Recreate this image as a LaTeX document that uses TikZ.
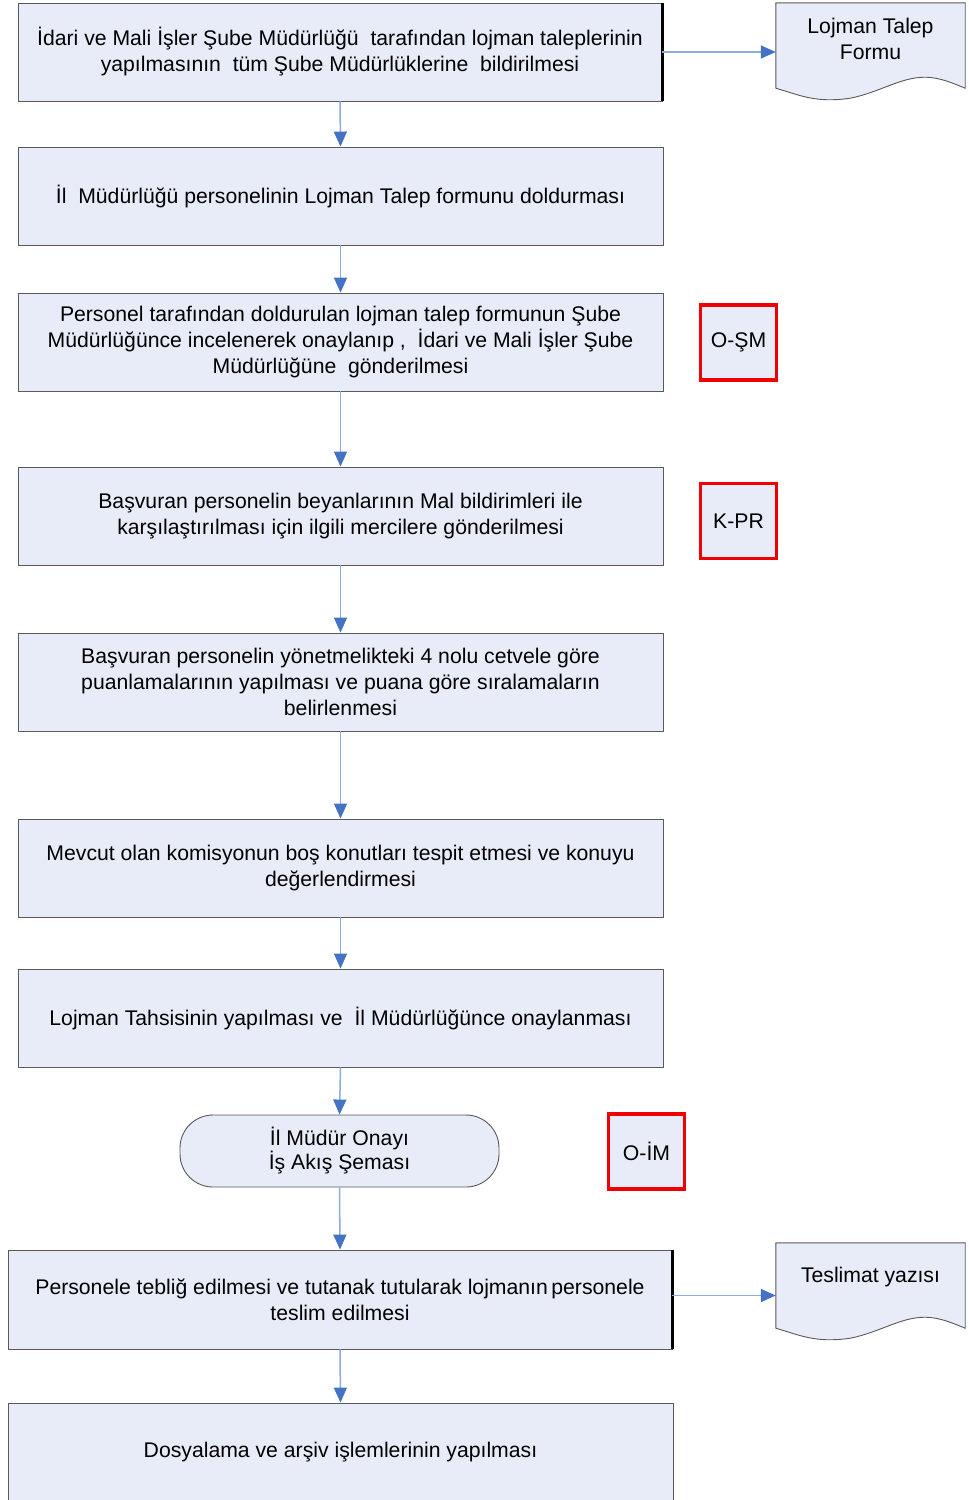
\documentclass[tikz,border=0pt]{standalone}
\usepackage{fontspec}
\setmainfont{Liberation Sans}
\usetikzlibrary{arrows.meta,calc}
\definecolor{boxfill}{RGB}{232,236,248}
\definecolor{boxline}{RGB}{90,90,90}
\definecolor{arrline}{RGB}{143,170,220}
\definecolor{arrhead}{RGB}{68,114,196}
\definecolor{redline}{RGB}{240,0,0}
\tikzset{
  stepbox/.style={draw=boxline, line width=0.9pt, fill=boxfill, rectangle, inner sep=0pt,
    minimum width=645pt, minimum height=98pt, align=center,
    font=\fontsize{21.2}{26}\selectfont},
  codebox/.style={draw=redline, line width=3.2pt, fill=boxfill, rectangle, inner sep=0pt,
    minimum width=76pt, minimum height=75pt, align=center,
    font=\fontsize{21.2}{26}\selectfont},
  termbox/.style={draw=boxline, line width=0.9pt, fill=boxfill, rectangle, rounded corners=33pt,
    inner sep=0pt, minimum width=319pt, minimum height=72pt, align=center,
    font=\fontsize{21.2}{24}\selectfont},
  docframe/.style={draw=none, rectangle, inner sep=0pt, minimum width=189pt, minimum height=98pt},
  doctext/.style={inner sep=0pt, align=center, font=\fontsize{21.2}{26}\selectfont},
  docline/.style={draw=boxline, line width=0.9pt, fill=boxfill},
  flow/.style={draw=arrline, line width=1.5pt, -{Triangle[length=15pt,width=13pt,color=arrhead]}},
  darkedge/.style={draw=black, line width=2.2pt}
}
\begin{document}
\begin{tikzpicture}[x=1pt,y=-1pt]
\useasboundingbox (0,0) rectangle (969,1500);
\fill[white] (0,0) rectangle (969,1500);

% main boxes
\node[stepbox, minimum width=644pt] (b1) at (340,52) {İdari ve Mali İşler Şube Müdürlüğü\ \ tarafından lojman taleplerinin\\ yapılmasının\ \ tüm Şube Müdürlüklerine\ \ bildirilmesi};
\node[stepbox] (b2) at (340.5,196) {İl\ \ Müdürlüğü personelinin Lojman Talep formunu doldurması};
\node[stepbox] (b3) at (340.5,342) {Personel tarafından doldurulan lojman talep formunun Şube\\ Müdürlüğünce incelenerek onaylanıp ,\ \ İdari ve Mali İşler Şube\\ Müdürlüğüne\ \ gönderilmesi};
\node[stepbox] (b4) at (340.5,516) {Başvuran personelin beyanlarının Mal bildirimleri ile\\ karşılaştırılması için ilgili mercilere gönderilmesi};
\node[stepbox] (b5) at (340.5,682) {Başvuran personelin yönetmelikteki 4 nolu cetvele göre\\ puanlamalarının yapılması ve puana göre sıralamaların\\ belirlenmesi};
\node[stepbox] (b6) at (340.5,868) {Mevcut olan komisyonun boş konutları tespit etmesi ve konuyu\\ değerlendirmesi};
\node[stepbox] (b7) at (340.5,1018) {Lojman Tahsisinin yapılması ve\ \ İl Müdürlüğünce onaylanması};
\node[termbox] (t8) at (339.5,1151) {İl Müdür Onayı\\ İş Akış Şeması};
\node[stepbox, minimum width=664pt, minimum height=99pt] (b9) at (340,1299.5) {Personele tebliğ edilmesi ve tutanak tutularak lojmanın\,personele\\ teslim edilmesi};
\node[stepbox, minimum width=665pt] (b10) at (340.5,1452) {Dosyalama ve arşiv işlemlerinin yapılması};

% dark right edges
\draw[darkedge] (b1.north east) -- (b1.south east);
\draw[darkedge] (b9.north east) -- (b9.south east);

% code boxes
\node[codebox] (c1) at (738.5,342.5) {O-ŞM};
\node[codebox] (c2) at (738.5,521) {K-PR};
\node[codebox] (c3) at (646.5,1151.5) {O-İM};

% documents
\node[docframe] (d1) at (870.5,52) {};
\draw[docline] (d1.north west) -- (d1.north east) -- ([yshift=13pt]d1.south east)
  .. controls ([xshift=-10pt,yshift=17pt]d1.south east) and ([xshift=-25pt,yshift=24pt]d1.south east) .. ([xshift=-40pt,yshift=24pt]d1.south east)
  .. controls ([xshift=-65pt,yshift=24pt]d1.south east) and ([xshift=-85pt,yshift=9pt]d1.south east) .. ([xshift=-115pt,yshift=3pt]d1.south east)
  .. controls ([xshift=-150pt,yshift=-2pt]d1.south east) and ([xshift=-165pt,yshift=6pt]d1.south east) .. ([yshift=13pt]d1.south west) -- cycle;
\node[doctext] (d1t) at ([yshift=13pt]d1.center) {Lojman Talep\\ Formu};

\node[docframe] (d2) at (870.5,1292) {};
\draw[docline] (d2.north west) -- (d2.north east) -- ([yshift=13pt]d2.south east)
  .. controls ([xshift=-10pt,yshift=17pt]d2.south east) and ([xshift=-25pt,yshift=24pt]d2.south east) .. ([xshift=-40pt,yshift=24pt]d2.south east)
  .. controls ([xshift=-65pt,yshift=24pt]d2.south east) and ([xshift=-85pt,yshift=9pt]d2.south east) .. ([xshift=-115pt,yshift=3pt]d2.south east)
  .. controls ([xshift=-150pt,yshift=-2pt]d2.south east) and ([xshift=-165pt,yshift=6pt]d2.south east) .. ([yshift=13pt]d2.south west) -- cycle;
\node[doctext] (d2t) at ([yshift=15pt]d2.center) {Teslimat yazısı};

% connectors
\draw[flow] (b1.south) -- (b2.north);
\draw[flow] (b2.south) -- (b3.north);
\draw[flow] (b3.south) -- (b4.north);
\draw[flow] (b4.south) -- (b5.north);
\draw[flow] (b5.south) -- (b6.north);
\draw[flow] (b6.south) -- (b7.north);
\draw[flow] (b7.south) -- (t8.north);
\draw[flow] (t8.south) -- (b9.north);
\draw[flow] (b9.south) -- (b10.north);
\draw[flow] (b1.east) -- (b1.east -| d1.west);
\draw[flow] ([yshift=4pt]b9.east) -- ([yshift=4pt]b9.east -| d2.west);
\end{tikzpicture}
\end{document}
